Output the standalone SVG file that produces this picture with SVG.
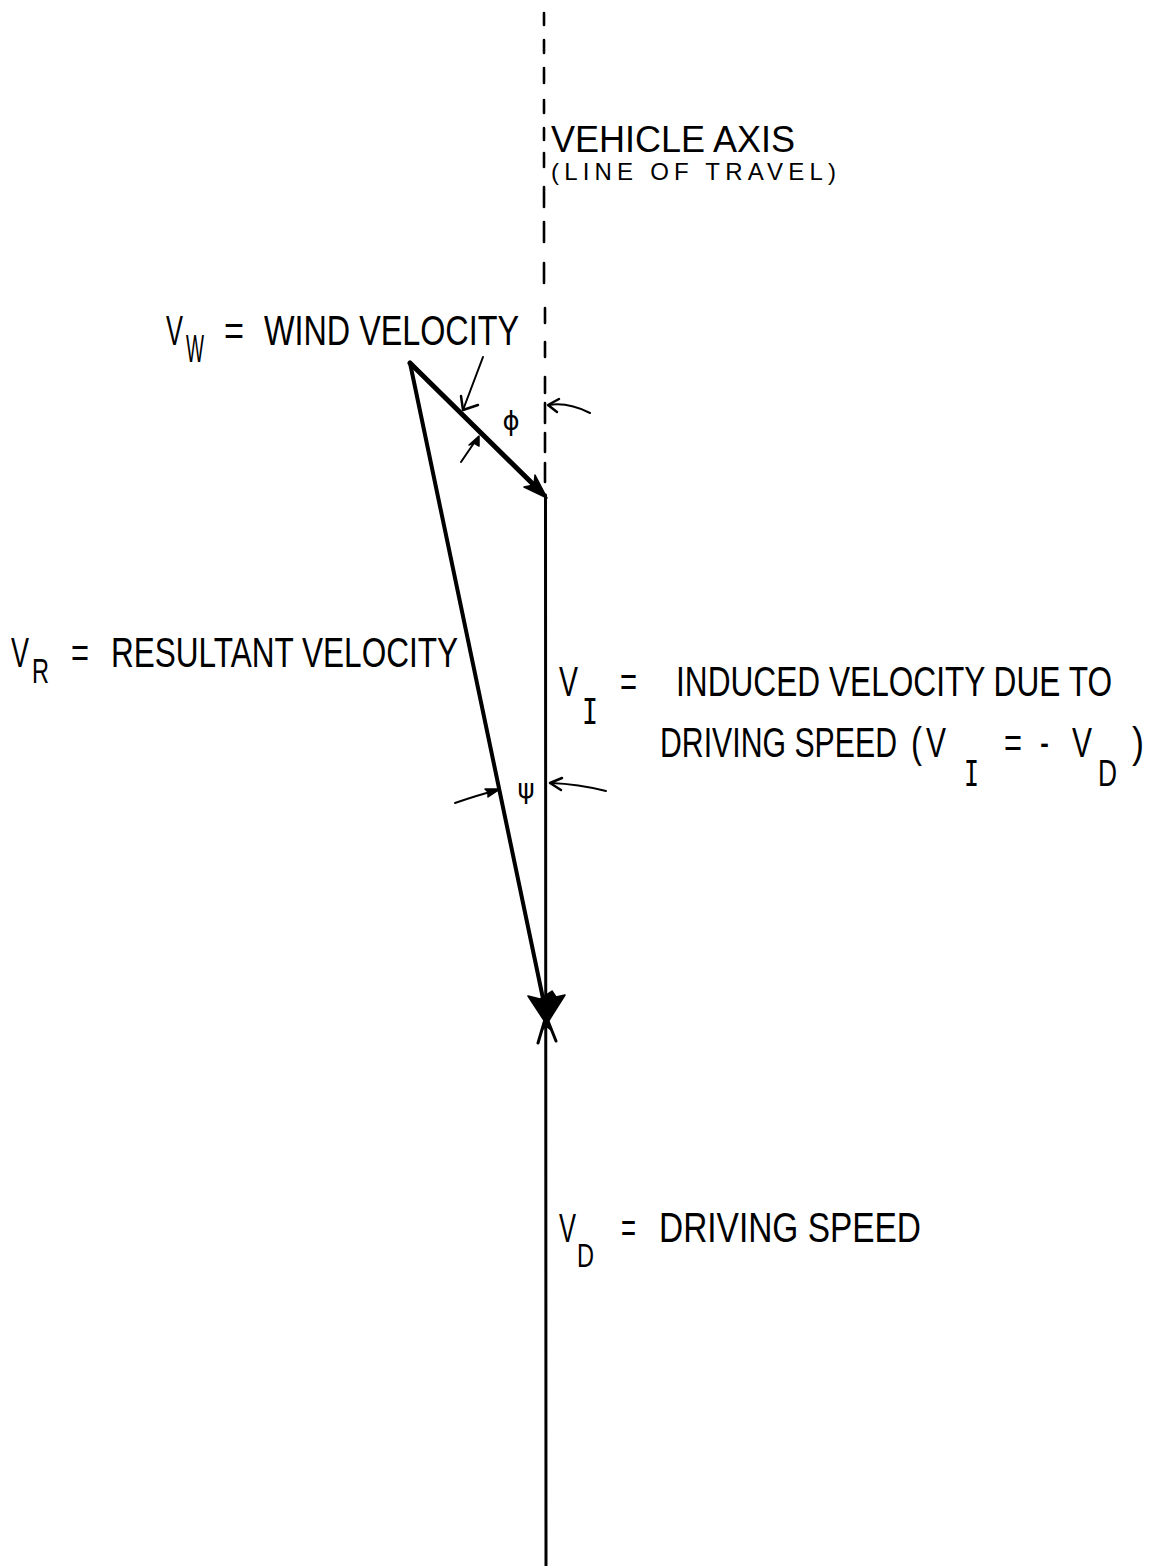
<svg xmlns="http://www.w3.org/2000/svg" width="1158" height="1566" viewBox="0 0 1158 1566">
<style>
.t{font-family:"Liberation Sans",Arial,sans-serif;fill:#000;font-size:42px}
.s{font-family:"Liberation Sans",Arial,sans-serif;fill:#000;font-size:36px}
.m{font-family:"DejaVu Sans Mono",monospace;fill:#000;font-size:36px}
.g{font-family:"DejaVu Sans",sans-serif;fill:#000;font-size:26px}
.ln{fill:none;stroke:#000;stroke-linecap:round;stroke-linejoin:round}
.fl{fill:#000;stroke:#000;stroke-width:1.5;stroke-linejoin:round}
</style>
<rect width="1158" height="1566" fill="#fff"/>
<g id="connectors">
  <path id="vehicle-axis" class="ln" stroke-width="2.6" d="M544,13V25M544,40V53M544,68V83M544,100V113M544,128V140M544,153V167M544,187V207M544,222V242M544,263V283M545,308V323M545,342V357M545,377V393M545,403V423M545,433V452M545,463V482"/>
  <line id="v-wind" class="ln" x1="410" y1="363" x2="540" y2="491" stroke-width="5"/>
  <polygon class="fl" points="547,498 524,487 534,485 535,475"/>
  <line id="v-resultant" class="ln" x1="410" y1="363" x2="545" y2="1008" stroke-width="4"/>
  <line id="v-induced-driving" class="ln" x1="545.5" y1="495" x2="546" y2="1566" stroke-width="3"/>
  <path class="fl" d="M528,996 L540,999 L552,991 L556,997 L565,995 L548,1022 L545,1022 Z"/>
  <path class="ln" stroke-width="3" d="M538,1043 L546,1016 L556,1041"/>
  <polygon class="fl" points="546,1015 542,1030 546,1026 551,1030"/>
  <path class="ln" stroke-width="2" d="M483,357 L463,410"/>
  <path class="ln" stroke-width="2.5" d="M461,396 L463,410 L478,405"/>
  <path class="ln" stroke-width="2" d="M590,413 Q568,402 549,405"/>
  <path class="ln" stroke-width="2.5" d="M559,399 L548,405 L557,412"/>
  <path class="ln" stroke-width="2" d="M461,462 L476,440"/>
  <polygon class="fl" points="479,436 469,445 474,443 479,446"/>
  <path class="ln" stroke-width="2" d="M455,803 Q478,795 498,790"/>
  <polygon class="fl" points="500,789 485,789 488,792 488,797"/>
  <path class="ln" stroke-width="2" d="M606,791 Q578,784 551,783"/>
  <path class="ln" stroke-width="2.5" d="M562,778 L550,783 L561,790"/>
</g>
<g id="label-axis">
  <text class="s" x="551" y="152" textLength="244" lengthAdjust="spacingAndGlyphs">VEHICLE AXIS</text>
  <text class="t" x="551" y="180" style="font-size:24px" textLength="285" lengthAdjust="spacing">(LINE OF TRAVEL)</text>
</g>
<g id="label-vw">
  <text class="t" x="166" y="345" textLength="17" lengthAdjust="spacingAndGlyphs">V</text>
  <text class="t" x="186" y="362" style="font-size:39px" textLength="18" lengthAdjust="spacingAndGlyphs">W</text>
  <text class="t" x="224" y="345" textLength="20" lengthAdjust="spacingAndGlyphs">=</text>
  <text class="t" x="264" y="345" textLength="255" lengthAdjust="spacingAndGlyphs">WIND VELOCITY</text>
</g>
<g id="label-phi">
  <text class="g" x="511" y="430" text-anchor="middle">ϕ</text>
</g>
<g id="label-vr">
  <text class="t" x="11" y="667" textLength="18" lengthAdjust="spacingAndGlyphs">V</text>
  <text class="t" x="32" y="683" style="font-size:35px" textLength="17" lengthAdjust="spacingAndGlyphs">R</text>
  <text class="t" x="71" y="667" textLength="18" lengthAdjust="spacingAndGlyphs">=</text>
  <text class="t" x="111" y="667" textLength="347" lengthAdjust="spacingAndGlyphs">RESULTANT VELOCITY</text>
</g>
<g id="label-vi">
  <text class="t" x="559" y="696" textLength="19" lengthAdjust="spacingAndGlyphs">V</text>
  <text class="m" x="582" y="724" textLength="16" lengthAdjust="spacingAndGlyphs">I</text>
  <text class="t" x="620" y="696" textLength="17" lengthAdjust="spacingAndGlyphs">=</text>
  <text class="t" x="676" y="696" textLength="436" lengthAdjust="spacingAndGlyphs">INDUCED VELOCITY DUE TO</text>
  <text class="t" x="660" y="757" textLength="237" lengthAdjust="spacingAndGlyphs">DRIVING SPEED</text>
  <text class="t" x="911" y="757" textLength="11" lengthAdjust="spacingAndGlyphs">(</text>
  <text class="t" x="926" y="757" textLength="20" lengthAdjust="spacingAndGlyphs">V</text>
  <text class="m" x="964" y="786" textLength="15" lengthAdjust="spacingAndGlyphs">I</text>
  <text class="t" x="1004" y="757" textLength="18" lengthAdjust="spacingAndGlyphs">=</text>
  <text class="t" x="1040" y="757" textLength="9" lengthAdjust="spacingAndGlyphs">-</text>
  <text class="t" x="1072" y="757" textLength="20" lengthAdjust="spacingAndGlyphs">V</text>
  <text class="t" x="1098" y="786" style="font-size:36px" textLength="19" lengthAdjust="spacingAndGlyphs">D</text>
  <text class="t" x="1132" y="757" textLength="12" lengthAdjust="spacingAndGlyphs">)</text>
</g>
<g id="label-psi">
  <text class="g" x="526" y="798" text-anchor="middle">ψ</text>
</g>
<g id="label-vd">
  <text class="t" x="559" y="1242" style="font-size:41px" textLength="17" lengthAdjust="spacingAndGlyphs">V</text>
  <text class="t" x="577" y="1267" style="font-size:34px" textLength="17" lengthAdjust="spacingAndGlyphs">D</text>
  <text class="t" x="621" y="1242" textLength="15" lengthAdjust="spacingAndGlyphs">=</text>
  <text class="t" x="659" y="1242" textLength="262" lengthAdjust="spacingAndGlyphs">DRIVING SPEED</text>
</g>
</svg>
